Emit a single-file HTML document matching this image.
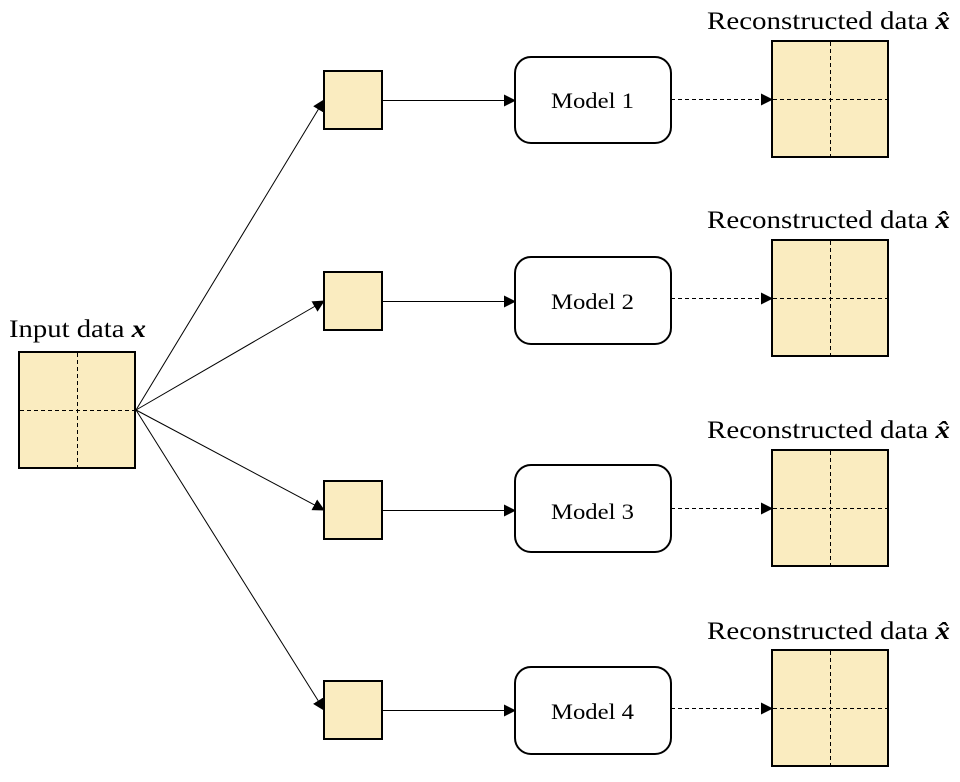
<!DOCTYPE html>
<html><head><style>
html,body{margin:0;padding:0;background:#fff;width:960px;height:782px;overflow:hidden}
text{font-family:"Liberation Serif",serif;fill:#000}
</style></head><body>
<svg width="960" height="782" xmlns="http://www.w3.org/2000/svg">
<defs>
<marker id="a" markerWidth="12" markerHeight="12" refX="11" refY="6" orient="auto" markerUnits="userSpaceOnUse">
<path d="M0,0 L12,6 L0,12 z" fill="#000"/></marker>
<g id="big">
<rect x="0" y="0" width="116" height="116" fill="#faecc0" stroke="#000" stroke-width="2"/>
<line x1="58.5" y1="1" x2="58.5" y2="115" stroke="#000" stroke-dasharray="4,3"/>
<line x1="1" y1="58.5" x2="115" y2="58.5" stroke="#000" stroke-dasharray="4,3"/>
</g>
</defs>
<text x="9" y="337" font-size="25" textLength="137" lengthAdjust="spacingAndGlyphs">Input data <tspan font-weight="bold" font-style="italic">x</tspan></text>
<use href="#big" x="19" y="352"/>
<g stroke="#000" stroke-width="1" fill="none" marker-end="url(#a)">
<line x1="136" y1="410" x2="324" y2="100"/>
<line x1="136" y1="410" x2="324" y2="301"/>
<line x1="136" y1="410" x2="324" y2="510"/>
<line x1="136" y1="410" x2="324" y2="710"/>
</g>
<g>
<rect x="324" y="71" width="58" height="58" fill="#faecc0" stroke="#000" stroke-width="2"/>
<rect x="324" y="272" width="58" height="58" fill="#faecc0" stroke="#000" stroke-width="2"/>
<rect x="324" y="481" width="58" height="58" fill="#faecc0" stroke="#000" stroke-width="2"/>
<rect x="324" y="681" width="58" height="58" fill="#faecc0" stroke="#000" stroke-width="2"/>
<g stroke="#000" marker-end="url(#a)">
<line x1="382" y1="100.5" x2="515" y2="100.5"/>
<line x1="382" y1="301.5" x2="515" y2="301.5"/>
<line x1="382" y1="510.5" x2="515" y2="510.5"/>
<line x1="382" y1="710.5" x2="515" y2="710.5"/>
</g>
<g stroke="#000" stroke-dasharray="4,3" marker-end="url(#a)">
<line x1="671" y1="99.5" x2="772" y2="99.5"/>
<line x1="671" y1="298.5" x2="772" y2="298.5"/>
<line x1="671" y1="508.5" x2="772" y2="508.5"/>
<line x1="671" y1="708.5" x2="772" y2="708.5"/>
</g>
<g fill="#fff" stroke="#000" stroke-width="2">
<rect x="515" y="57" width="156" height="86" rx="16"/>
<rect x="515" y="257" width="156" height="87" rx="16"/>
<rect x="515" y="465" width="156" height="87" rx="16"/>
<rect x="515" y="667" width="156" height="87" rx="16"/>
</g>
<g font-size="22">
<text x="551" y="108" textLength="83" lengthAdjust="spacingAndGlyphs">Model 1</text>
<text x="551" y="309" textLength="83" lengthAdjust="spacingAndGlyphs">Model 2</text>
<text x="551" y="519" textLength="83" lengthAdjust="spacingAndGlyphs">Model 3</text>
<text x="551" y="719" textLength="83" lengthAdjust="spacingAndGlyphs">Model 4</text>
</g>
<use href="#big" x="772" y="41"/>
<use href="#big" x="772" y="240"/>
<use href="#big" x="772" y="450"/>
<use href="#big" x="772" y="650"/>
<g font-size="25">
<text x="707" y="29" textLength="243" lengthAdjust="spacingAndGlyphs">Reconstructed data <tspan font-weight="bold" font-style="italic">x̂</tspan></text>
<text x="707" y="228" textLength="243" lengthAdjust="spacingAndGlyphs">Reconstructed data <tspan font-weight="bold" font-style="italic">x̂</tspan></text>
<text x="707" y="438" textLength="243" lengthAdjust="spacingAndGlyphs">Reconstructed data <tspan font-weight="bold" font-style="italic">x̂</tspan></text>
<text x="707" y="639" textLength="243" lengthAdjust="spacingAndGlyphs">Reconstructed data <tspan font-weight="bold" font-style="italic">x̂</tspan></text>
</g>
</g>
</svg>
</body></html>
